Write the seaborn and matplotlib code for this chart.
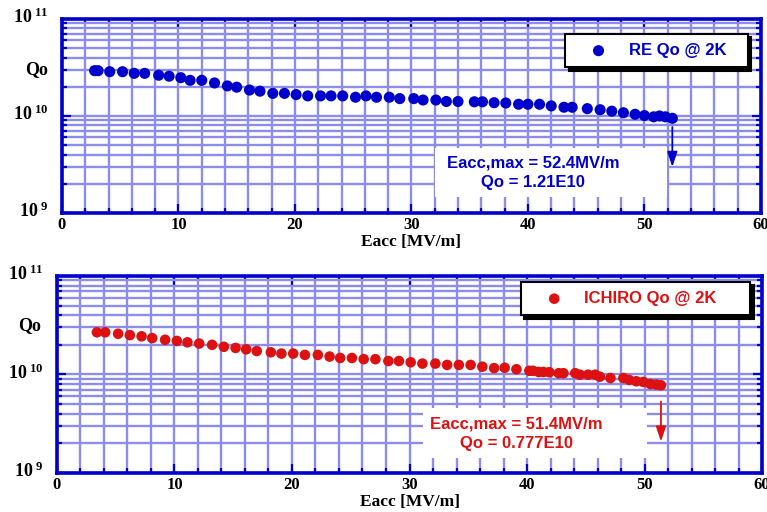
import numpy as np
import pandas as pd
import matplotlib
matplotlib.use("Agg")
import matplotlib.pyplot as plt
import matplotlib.ticker as mticker
import matplotlib.transforms as mtransforms
from matplotlib.patches import Rectangle
from matplotlib.font_manager import FontProperties
import seaborn as sns

# ---- RE cavity: Qo vs Eacc at 2K (Qo in units of 1e10) ----
re_eacc = [2.8, 3.1, 4.1, 5.2, 6.2, 7.1, 8.3, 9.2, 10.2, 11.0, 12.0, 13.1, 14.2,
           15.0, 16.1, 17.0, 18.1, 19.1, 20.1, 21.1, 22.2, 23.1, 24.1, 25.2, 26.1,
           27.0, 28.1, 29.0, 30.2, 31.0, 32.1, 33.0, 34.0, 35.4, 36.1, 37.1, 38.1,
           39.2, 40.0, 41.0, 42.0, 43.1, 43.8, 45.1, 46.2, 47.2, 48.2, 49.2, 50.0,
           50.8, 51.3, 51.8, 52.4]
re_qo = [2.93, 2.93, 2.86, 2.86, 2.75, 2.75, 2.63, 2.57, 2.48, 2.33, 2.33, 2.19,
         2.04, 1.98, 1.85, 1.80, 1.71, 1.71, 1.66, 1.61, 1.61, 1.61, 1.61, 1.56,
         1.61, 1.56, 1.56, 1.51, 1.51, 1.46, 1.46, 1.41, 1.41, 1.40, 1.40, 1.37,
         1.36, 1.32, 1.32, 1.32, 1.27, 1.23, 1.23, 1.19, 1.16, 1.12, 1.08, 1.04,
         1.01, 0.98, 1.00, 0.98, 0.946]
re_eacc_max = 52.4
re_qo_max = 1.21

# ---- ICHIRO cavity: Qo vs Eacc at 2K (Qo in units of 1e10) ----
ichiro_eacc = [3.4, 4.1, 5.2, 6.2, 7.2, 8.1, 9.2, 10.2, 11.1, 12.1, 13.2, 14.2,
               15.2, 16.1, 17.0, 18.2, 19.1, 20.1, 21.1, 22.2, 23.2, 24.1, 25.1,
               26.1, 27.1, 28.2, 29.1, 30.1, 31.1, 32.2, 33.2, 34.2, 35.2, 36.2,
               37.2, 38.1, 39.1, 40.2, 40.5, 41.0, 41.4, 41.9, 42.7, 43.1, 44.1,
               44.5, 45.2, 45.8, 46.2, 47.1, 48.2, 48.7, 49.3, 49.9, 50.5, 51.0, 51.4]
ichiro_qo = [2.68, 2.68, 2.59, 2.51, 2.44, 2.34, 2.25, 2.19, 2.12, 2.06, 2.00, 1.91,
             1.86, 1.80, 1.73, 1.68, 1.63, 1.63, 1.58, 1.58, 1.52, 1.47, 1.47,
             1.43, 1.43, 1.37, 1.37, 1.33, 1.29, 1.29, 1.25, 1.25, 1.25, 1.20,
             1.16, 1.17, 1.13, 1.09, 1.09, 1.06, 1.06, 1.055, 1.03, 1.03, 1.03,
             0.995, 0.995, 0.995, 0.95, 0.92, 0.92, 0.88, 0.853, 0.84, 0.80, 0.79, 0.777]
ichiro_eacc_max = 51.4
ichiro_qo_max = 0.777

x_ticks = [0, 10, 20, 30, 40, 50, 60]
y_ticks = [1e9, 1e10, 1e11]
y_tick_labels = [r"$10^{\;9}$", r"$10^{\;10}$", r"$10^{\;11}$"]

# ---- styling ----
plt.rcParams["mathtext.fontset"] = "custom"
plt.rcParams["mathtext.rm"] = "Liberation Serif:bold"
plt.rcParams["mathtext.it"] = "Liberation Serif:bold"
plt.rcParams["mathtext.bf"] = "Liberation Serif:bold"

AXIS_BLUE = "#0000cc"
GRID_BLUE = "#8c8cec"
serif_bold = dict(family="Liberation Serif", weight="bold")
sans_bold = FontProperties(family="Liberation Sans", weight="bold", size=12)

fig = plt.figure(figsize=(7.67, 5.12), dpi=100)
ax_top = fig.add_axes([0.0808, 0.584, 0.9112, 0.379])
ax_bot = fig.add_axes([0.0743, 0.0762, 0.9192, 0.3848])


def style_axes(ax):
    ax.set_yscale("log")
    ax.set_xlim(0, 60)
    ax.set_ylim(1e9, 1e11)
    ax.set_axisbelow(True)
    ax.xaxis.set_major_locator(mticker.FixedLocator(x_ticks))
    ax.xaxis.set_minor_locator(mticker.MultipleLocator(2))
    ax.set_xticklabels([str(t) for t in x_ticks], fontsize=12, **serif_bold)
    ax.set_yticks(y_ticks)
    ax.set_yticklabels(y_tick_labels, fontsize=13)
    ax.yaxis.set_minor_locator(mticker.LogLocator(base=10, subs=np.arange(2, 10)))
    ax.yaxis.set_minor_formatter(mticker.NullFormatter())
    ax.tick_params(which="both", direction="in", top=True, right=True,
                   color=AXIS_BLUE, width=1.6)
    ax.tick_params(which="major", length=6.5)
    ax.tick_params(which="minor", length=3.5)
    ax.tick_params(axis="x", which="major", pad=3)
    ax.tick_params(axis="y", which="major", pad=10)
    # decade labels sit just above their tick, baseline slightly below it
    shift = mtransforms.ScaledTranslation(0, -3 / 72, fig.dpi_scale_trans)
    for tick in ax.yaxis.get_major_ticks():
        tick.label1.set_verticalalignment("baseline")
        tick.label1.set_transform(tick.label1.get_transform() + shift)
    ax.grid(True, which="both", color=GRID_BLUE, lw=1.7)
    for sp in ax.spines.values():
        sp.set_color(AXIS_BLUE)
        sp.set_linewidth(2.6)


def panel(ax, eacc, qo, color, label, eacc_max, qo_text, box, text_xy, arrow_y, legend_box, marker_s):
    style_axes(ax)
    df = pd.DataFrame({"Eacc": eacc, "Qo": np.asarray(qo) * 1e10})
    sns.scatterplot(data=df, x="Eacc", y="Qo", ax=ax, color=color, s=marker_s,
                    edgecolor="none", linewidth=0, label=label, zorder=3)
    ax.set_xlabel("Eacc [MV/m]", fontsize=12.5, labelpad=0.5, **serif_bold)
    ax.set_ylabel("Qo", fontsize=13, rotation=0, ha="center", va="center", **serif_bold)

    # white panel behind the quench annotation
    ax.add_patch(Rectangle((box[0], box[1]), box[2], box[3], transform=ax.transAxes,
                           facecolor="white", edgecolor="none", zorder=1))
    ax.text(text_xy[0], text_xy[1],
            f"Eacc,max = {eacc_max}MV/m\nQo = {qo_text}E10",
            transform=ax.transAxes, ha="center", va="center", multialignment="center",
            color=color, fontproperties=sans_bold, linespacing=1.35, zorder=4)
    # quench arrow at the maximum field
    ax.annotate("", xy=(eacc_max, arrow_y[1]), xytext=(eacc_max, arrow_y[0]),
                xycoords=("data", "axes fraction"), textcoords=("data", "axes fraction"),
                arrowprops=dict(arrowstyle="-|>,head_length=0.6,head_width=0.2",
                                color=color, lw=1.3, mutation_scale=15,
                                shrinkA=0, shrinkB=0), zorder=4)

    leg = ax.legend(loc="upper left", bbox_to_anchor=(legend_box[0], legend_box[1], legend_box[2], 0),
                    mode="expand", frameon=True, fancybox=False, framealpha=1,
                    edgecolor="black", borderpad=0.55, handlelength=2.9,
                    handletextpad=0.35, borderaxespad=0, prop=sans_bold,
                    labelcolor=color,
                    shadow={"ox": 2.5, "oy": -2.5, "facecolor": "black",
                            "edgecolor": "black", "alpha": 1})
    leg.get_frame().set_linewidth(1.5)


panel(ax_top, re_eacc, re_qo, "#0000cc", "RE Qo @ 2K", re_eacc_max, f"{re_qo_max}",
      box=(0.534, 0.082, 0.332, 0.253), text_xy=(0.674, 0.206),
      arrow_y=(0.443, 0.237), legend_box=(0.72, 0.923, 0.261), marker_s=64)
panel(ax_bot, ichiro_eacc, ichiro_qo, "#dd1111", "ICHIRO Qo @ 2K", ichiro_eacc_max,
      f"{ichiro_qo_max}",
      box=(0.519, 0.076, 0.318, 0.254), text_xy=(0.652, 0.198),
      arrow_y=(0.362, 0.159), legend_box=(0.658, 0.970, 0.325), marker_s=58)

ax_top.yaxis.set_label_coords(-0.037, 0.737)
ax_bot.yaxis.set_label_coords(-0.039, 0.746)

fig.savefig("out.png", dpi=100, facecolor="white")
